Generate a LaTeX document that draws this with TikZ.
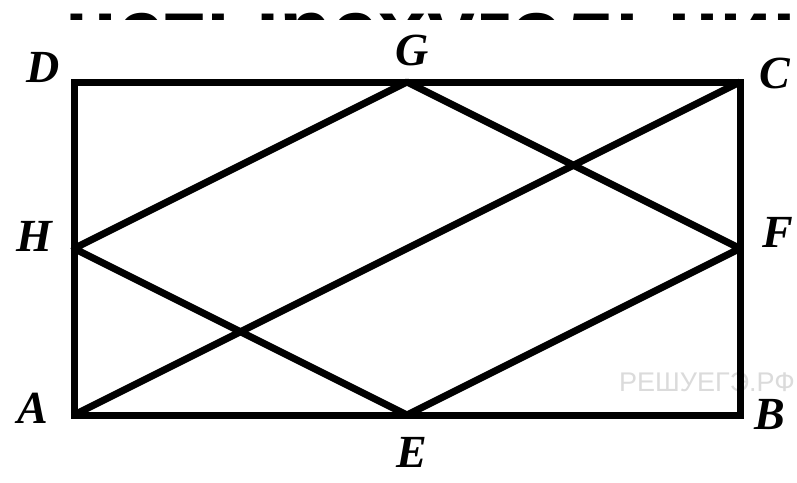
\documentclass[tikz,border=0pt]{standalone}
\usepackage{fontspec}
\setmainfont{Liberation Serif}
\newfontfamily\headfont{Liberation Sans}
\begin{document}
\begin{tikzpicture}[x=1pt,y=-1pt,
  edge/.style={line width=7pt, line join=miter},
  rhomb/.style={line width=7pt, line join=round},
  lbl/.style={font=\fontsize{46}{46}\selectfont\bfseries\itshape, inner sep=0pt}]
\useasboundingbox[fill=white] (0,0) rectangle (797,482);
\begin{scope}
\clip (0,0) rectangle (797,19);
\node[anchor=base west, inner sep=0pt, font=\headfont\fontsize{86}{86}\selectfont\bfseries] (head) at (67,59) {четырехугольник};
\end{scope}
\node[anchor=west, inner sep=0pt, text=black!14, font=\headfont\fontsize{27}{27}\selectfont] (wm) at (619,382) {РЕШУЕГЭ.РФ};
\coordinate (A) at (74,415);
\coordinate (B) at (740,415);
\coordinate (C) at (740,82);
\coordinate (D) at (74,82);
\coordinate (E) at (407,415);
\coordinate (F) at (740,248.5);
\coordinate (G) at (407,82);
\coordinate (H) at (74,248.5);
\draw[rhomb] (H) -- (G) -- (F) -- (E) -- cycle;
\draw[rhomb] (A) -- (C);
\draw[edge] (A) -- (B) -- (C) -- (D) -- cycle;
\node[lbl] (lA) at (33,408) {A};
\node[lbl] (lB) at (770,414) {B};
\node[lbl] (lC) at (775,73) {C};
\node[lbl] (lD) at (43,67) {D};
\node[lbl] (lE) at (412,452) {E};
\node[lbl] (lF) at (778,232) {F};
\node[lbl] (lG) at (412,50) {G};
\node[lbl] (lH) at (34,236) {H};
\end{tikzpicture}
\end{document}
